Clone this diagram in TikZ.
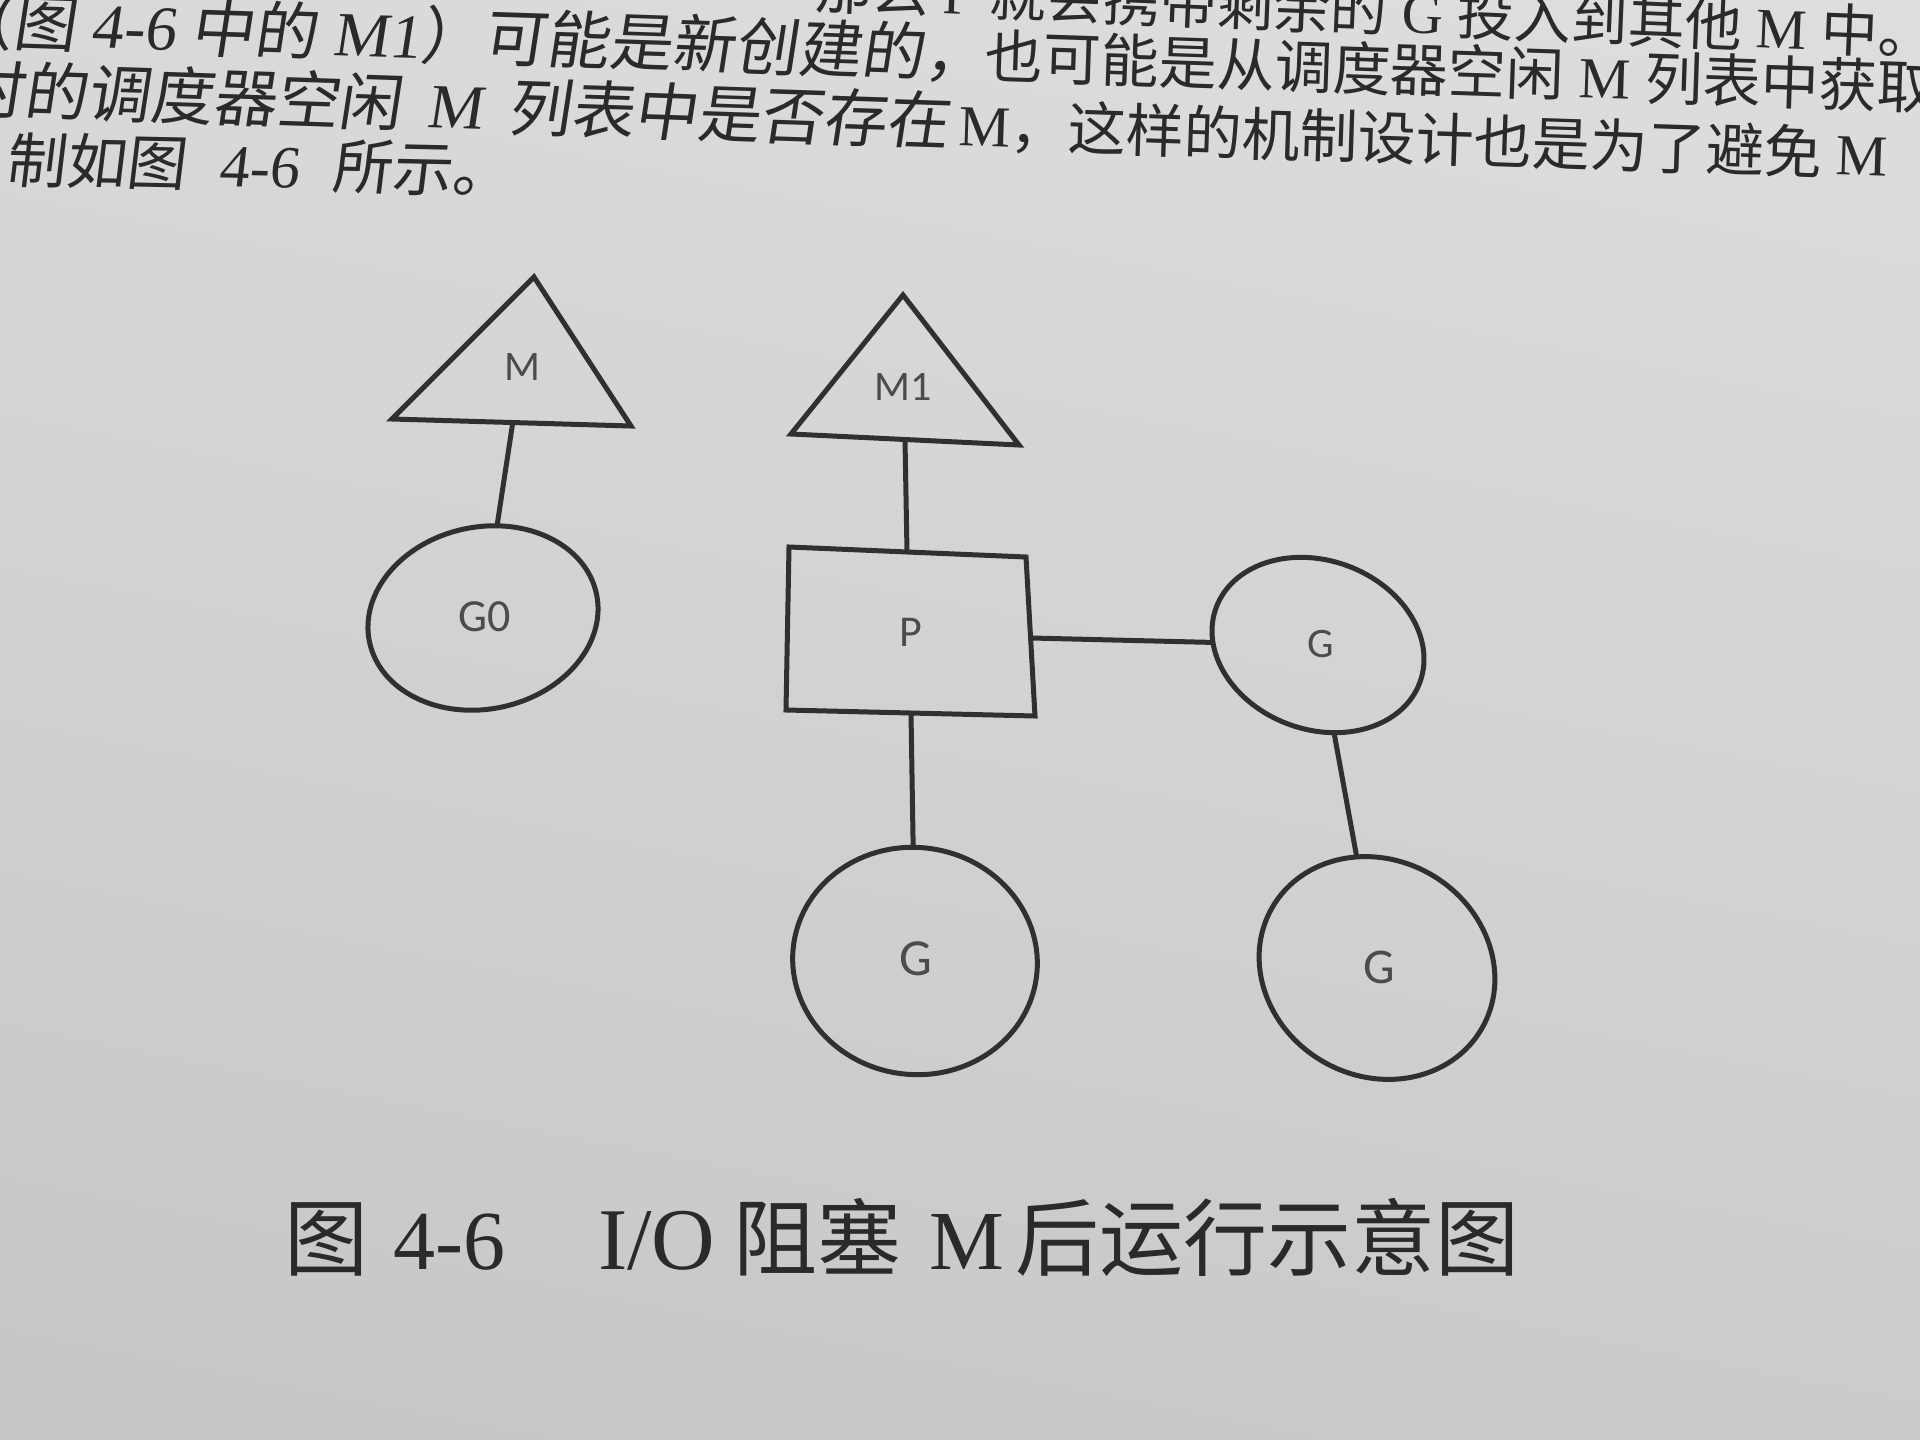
\documentclass[tikz,border=0pt]{standalone}
\usepackage{fontspec}
\setmainfont{Liberation Serif}
\newfontfamily\cjkf{Noto Sans CJK SC}
\newfontfamily\labf{Carlito}
\usetikzlibrary{shapes.geometric,shadings}
\newcommand\latn[1]{{\rmfamily #1}}
\newcommand\sps{\hspace{0.25em}}
\newcommand\fsz[1]{\fontsize{#1}{#1}\selectfont}
\definecolor{paperUL}{HTML}{D9D9D7}
\definecolor{paperUR}{HTML}{DEDEDC}
\definecolor{paperLL}{HTML}{C6C6C4}
\definecolor{paperLR}{HTML}{CBCBC9}
\definecolor{ink}{HTML}{303030}
\definecolor{labink}{HTML}{4C4C4C}
\definecolor{txtink}{HTML}{2A2A2A}
\definecolor{capink}{HTML}{2A2A2A}
\begin{document}
\begin{tikzpicture}[x=1pt,y=-1pt,
  shapeline/.style={draw=ink, line width=5pt, line join=miter},
  edge/.style={draw=ink, line width=5pt},
  gnode/.style={ellipse, draw=ink, line width=5pt, inner sep=0pt, outer sep=0pt},
  lab/.style={text=labink, inner sep=0pt},
  toptext/.style={anchor=base west, inner sep=0pt, text=txtink},
  captext/.style={anchor=base west, inner sep=0pt, text=capink}]
\useasboundingbox (0,0) rectangle (1920,1440);
\clip (0,0) rectangle (1920,1440);
\shade[upper left=paperUL, upper right=paperUR, lower left=paperLL, lower right=paperLR] (0,0) rectangle (1920,1440);

% ---- paragraph text above the figure ----
\node[toptext, font={\cjkf\fsz{57}}, rotate=-2.4] (t0) at (814,8)
  {那么\sps\latn{P}\sps 就会携带剩余的\sps\latn{G}\sps 投入到其他\sps\latn{M}\sps 中。};
\node[toptext, font={\cjkf\fsz{63}}, rotate=-1.9, xslant=0.12] (t1a) at (-51,43)
  {（图\sps\latn{4-6}\sps 中的\sps\latn{M1}）可能是新创建的，};
\node[toptext, font={\cjkf\fsz{58}}, rotate=-1.9] (t1b) at (984,77.5)
  {也可能是从调度器空闲\sps\latn{M}\sps 列表中获取};
\node[toptext, font={\cjkf\fsz{63}}, rotate=-1.9, xslant=0.12] (t2a) at (-40,112)
  {时的调度器空闲\hspace{.4em}\latn{M}\hspace{.4em}列表中是否存在};
\node[toptext, font={\cjkf\fsz{58}}, rotate=-1.9] (t2b) at (958,145.6)
  {\latn{M}，这样的机制设计也是为了避免\sps\latn{M}};
\node[toptext, font={\cjkf\fsz{60}}, rotate=-1.2, xslant=0.1] (t3) at (5,182)
  {制如图\hspace{.55em}\latn{4-6}\hspace{.55em}所示。};

% ---- triangle M ----
\coordinate (Ma) at (534,277);
\coordinate (Mb) at (392,419);
\coordinate (Mc) at (631,426);
\coordinate (Mbase) at (513,421);
\draw[shapeline] (Ma) -- (Mb) -- (Mc) -- cycle;
\node[lab, font={\labf\fsz{42}}] (lM) at (522,367) {M};

% ---- triangle M1 ----
\coordinate (M1a) at (903,295);
\coordinate (M1b) at (791,434);
\coordinate (M1c) at (1019,445);
\coordinate (M1base) at (905,440);
\draw[shapeline] (M1a) -- (M1b) -- (M1c) -- cycle;
\node[lab, font={\labf\fsz{42}}] (lM1) at (903,387) {M1};

% ---- rectangle P ----
\coordinate (Ptl) at (789,547);
\coordinate (Ptr) at (1026,557);
\coordinate (Pbr) at (1035,716);
\coordinate (Pbl) at (786,710);
\coordinate (Ptop) at (907,552);
\coordinate (Pright) at (1031,638);
\coordinate (Pbot) at (911,713);
\draw[shapeline] (Ptl) -- (Ptr) -- (Pbr) -- (Pbl) -- cycle;
\node[lab, font={\labf\fsz{44}}] (lP) at (911,632) {P};

% ---- G circles ----
\node[gnode, minimum width=232pt, minimum height=182pt, rotate=12] (G0) at (483,618) {};
\node[lab, font={\labf\fsz{46}}] (lG0) at (485,617) {G0};

\node[gnode, minimum width=217pt, minimum height=169pt, rotate=-20] (Gr1) at (1318,645) {};
\node[lab, font={\labf\fsz{42}}] (lGr1) at (1321,644) {G};

\node[gnode, minimum width=245pt, minimum height=227pt, rotate=-8] (Gm) at (915,961) {};
\node[lab, font={\labf\fsz{52}}] (lGm) at (916,959) {G};

\node[gnode, minimum width=242pt, minimum height=216pt, rotate=-30] (Gr2) at (1377,968) {};
\node[lab, font={\labf\fsz{50}}] (lGr2) at (1379,967) {G};

% ---- connectors ----
\draw[edge] (Mbase) -- (G0);
\draw[edge] (M1base) -- (Ptop);
\draw[edge] (Pright) -- (Gr1);
\draw[edge] (Pbot) -- (Gm);
\draw[edge] (Gr1) -- (Gr2);

% ---- caption ----
\node[captext, font={\cjkf\fsz{84}}] (c1) at (284,1269) {图};
\node[captext, font={\rmfamily\fsz{84}}] (c2) at (393,1269) {4-6};
\node[captext, font={\rmfamily\fsz{88}}] (c3) at (598,1269) {I/O};
\node[captext, font={\cjkf\fsz{84}}] (c4) at (733,1269) {阻塞};
\node[captext, font={\rmfamily\fsz{84}}] (c5) at (929,1269) {M};
\node[captext, font={\cjkf\fsz{84}}] (c6) at (1015,1269) {后运行示意图};
\end{tikzpicture}
\end{document}
